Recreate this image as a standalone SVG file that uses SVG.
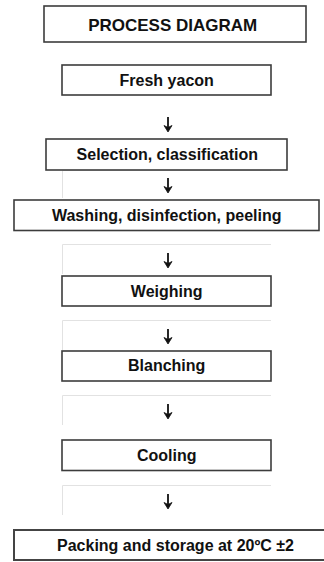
<svg xmlns="http://www.w3.org/2000/svg" width="324" height="562" viewBox="0 0 324 562">
<style>
.box{fill:#fff;stroke:#3c3c3c;stroke-width:1.6}
.faint{fill:none;stroke:#e2e2e2;stroke-width:1}
.t{font-family:"Liberation Sans",Arial,sans-serif;font-weight:bold;font-size:16px;fill:#111;text-anchor:middle}
.stem{fill:none;stroke:#111;stroke-width:1.8}
.head{fill:#111;stroke:#111;stroke-width:0.8;stroke-linejoin:round}
</style>
<rect width="324" height="562" fill="#fff"/>
<g id="faint-frames">
<path class="faint" d="M62.5,198 V170.5 H271"/>
<path class="faint" d="M62.5,274 V244.5 H271"/>
<path class="faint" d="M62.5,350 V320.5 H271"/>
<path class="faint" d="M62.5,425 V395.5 H271"/>
<path class="faint" d="M62.5,515 V485.5 H271"/>
</g>
<g id="title"><rect class="box" x="44" y="6" width="262" height="36"/><text class="t" x="172.7" y="30.5" style="font-size:17px">PROCESS DIAGRAM</text></g>
<g id="fresh"><rect class="box" x="62" y="65" width="209" height="30"/><text class="t" x="166.7" y="86">Fresh yacon</text></g>
<g id="selection"><rect class="box" x="46" y="139" width="241" height="31"/><text class="t" x="167.3" y="160">Selection, classification</text></g>
<g id="washing"><rect class="box" x="14" y="200" width="305" height="30.5"/><text class="t" x="166.7" y="221">Washing, disinfection, peeling</text></g>
<g id="weighing"><rect class="box" x="62" y="276" width="209" height="30"/><text class="t" x="166.7" y="296.5">Weighing</text></g>
<g id="blanching"><rect class="box" x="62" y="351" width="209" height="30"/><text class="t" x="166.7" y="371">Blanching</text></g>
<g id="cooling"><rect class="box" x="62" y="440" width="209" height="30.5"/><text class="t" x="166.7" y="460.5">Cooling</text></g>
<g id="packing"><rect class="box" x="14" y="530" width="313" height="30" style="stroke-width:2;stroke:#444"/><text class="t" x="175.5" y="551">Packing and storage at 20ºC ±2</text></g>
<g id="connectors">
<path class="stem" d="M168,117 V128"/><path class="head" d="M164,125.5 L168,132 L172,125.5 L168,127.5 Z"/>
<path class="stem" d="M168,178 V189"/><path class="head" d="M164,186.5 L168,193 L172,186.5 L168,188.5 Z"/>
<path class="stem" d="M168,253 V264"/><path class="head" d="M164,261.5 L168,268 L172,261.5 L168,263.5 Z"/>
<path class="stem" d="M168,329 V340"/><path class="head" d="M164,337.5 L168,344 L172,337.5 L168,339.5 Z"/>
<path class="stem" d="M168,404 V415"/><path class="head" d="M164,412.5 L168,419 L172,412.5 L168,414.5 Z"/>
<path class="stem" d="M168,494 V505"/><path class="head" d="M164,502.5 L168,509 L172,502.5 L168,504.5 Z"/>
</g>
</svg>
